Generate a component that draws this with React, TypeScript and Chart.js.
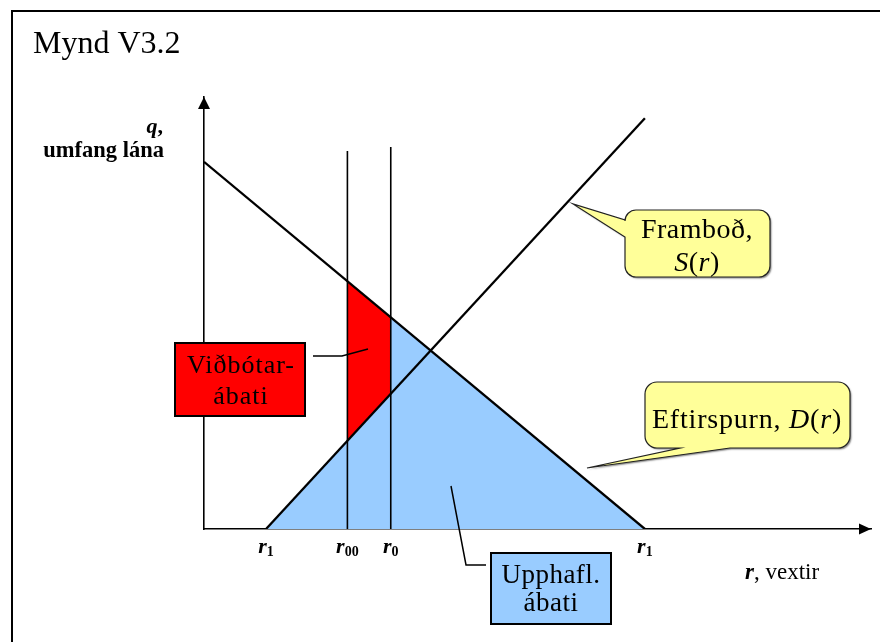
import React, { useEffect, useRef } from 'react';
import { Chart, registerables } from 'chart.js';

Chart.register(...registerables);

// r-axis tick positions and their subscript labels
const rTicks = [9.3, 21.5, 28.0, 66.1];
const rTickSubs = ['1', '00', '0', '1'];

// Demand curve D(r)
const demandR = [0, 66.1];
const demandQ = [85.0, 0];

// Supply curve S(r)
const supplyR = [9.3, 66.1];
const supplyQ = [0, 95.1];

// Vertical lines at r00 and r0
const r00R = [21.5, 21.5];
const r00Q = [0, 87.5];
const r0R = [28.0, 28.0];
const r0Q = [0, 88.4];

// Viðbótarábati (red area)
const extraR = [21.5, 28.0, 28.0, 21.5];
const extraQ = [20.4, 31.3, 49.0, 57.3];

// Upphaflegur ábati (blue area)
const initR = [9.3, 28.0, 28.0, 66.1];
const initQ = [0, 31.3, 49.0, 0];

const SERIF = '"Liberation Serif", "Times New Roman", serif';

const pts = (xs: number[], ys: number[]) => xs.map((x, i) => ({ x, y: ys[i] }));

type Run = { t: string; f: string; dy?: number };

function drawRuns(ctx: CanvasRenderingContext2D, runs: Run[], x: number, y: number, align: 'left' | 'center' | 'right') {
  let total = 0;
  const widths: number[] = [];
  for (const r of runs) {
    ctx.font = r.f;
    const w = ctx.measureText(r.t).width;
    widths.push(w);
    total += w;
  }
  let cx = align === 'center' ? x - total / 2 : align === 'right' ? x - total : x;
  ctx.textAlign = 'left';
  ctx.textBaseline = 'alphabetic';
  runs.forEach((r, i) => {
    ctx.font = r.f;
    ctx.fillText(r.t, cx, y + (r.dy || 0));
    cx += widths[i];
  });
}

type Tail = { edge: 'left' | 'bottom'; a: number; b: number; tx: number; ty: number };

function bubblePath(ctx: CanvasRenderingContext2D, x: number, y: number, w: number, h: number, r: number, tail: Tail) {
  ctx.beginPath();
  ctx.moveTo(x + r, y);
  ctx.lineTo(x + w - r, y);
  ctx.arcTo(x + w, y, x + w, y + r, r);
  ctx.lineTo(x + w, y + h - r);
  ctx.arcTo(x + w, y + h, x + w - r, y + h, r);
  if (tail.edge === 'bottom') {
    ctx.lineTo(tail.b, y + h);
    ctx.lineTo(tail.tx, tail.ty);
    ctx.lineTo(tail.a, y + h);
  }
  ctx.lineTo(x + r, y + h);
  ctx.arcTo(x, y + h, x, y + h - r, r);
  if (tail.edge === 'left') {
    ctx.lineTo(x, tail.b);
    ctx.lineTo(tail.tx, tail.ty);
    ctx.lineTo(x, tail.a);
  }
  ctx.lineTo(x, y + r);
  ctx.arcTo(x, y, x + r, y, r);
  ctx.closePath();
}

function drawBubble(ctx: CanvasRenderingContext2D, x: number, y: number, w: number, h: number, r: number, tail: Tail) {
  ctx.save();
  bubblePath(ctx, x, y, w, h, r, tail);
  ctx.shadowColor = 'rgba(0,0,0,0.45)';
  ctx.shadowOffsetX = 1.5;
  ctx.shadowOffsetY = 1.5;
  ctx.shadowBlur = 1.5;
  ctx.fillStyle = '#FFFF99';
  ctx.fill();
  ctx.shadowColor = 'transparent';
  ctx.lineWidth = 1.2;
  ctx.strokeStyle = '#222';
  ctx.stroke();
  ctx.restore();
}

const overlayPlugin = {
  id: 'overlay',
  afterDraw(chart: any) {
    const ctx: CanvasRenderingContext2D = chart.ctx;
    const xs = chart.scales.x;
    const ys = chart.scales.y;
    const x0 = xs.getPixelForValue(0);
    const xEnd = xs.getPixelForValue(100);
    const y0 = ys.getPixelForValue(0);
    const yEnd = ys.getPixelForValue(100);
    ctx.save();

    // frame
    ctx.strokeStyle = '#000';
    ctx.lineWidth = 2;
    ctx.beginPath();
    ctx.moveTo(12, 700);
    ctx.lineTo(12, 11);
    ctx.lineTo(900, 11);
    ctx.stroke();

    // arrow heads
    ctx.fillStyle = '#000';
    ctx.beginPath();
    ctx.moveTo(xEnd, y0);
    ctx.lineTo(xEnd - 12, y0 - 5.5);
    ctx.lineTo(xEnd - 12, y0 + 5.5);
    ctx.closePath();
    ctx.fill();
    ctx.beginPath();
    ctx.moveTo(x0, yEnd);
    ctx.lineTo(x0 - 6, yEnd + 12);
    ctx.lineTo(x0 + 6, yEnd + 12);
    ctx.closePath();
    ctx.fill();

    // title
    ctx.fillStyle = '#000';
    drawRuns(ctx, [{ t: 'Mynd V3.2', f: `32px ${SERIF}` }], 33, 53, 'left');

    // axis titles
    drawRuns(ctx, [{ t: 'q', f: `italic bold 22px ${SERIF}` }, { t: ',', f: `bold 22px ${SERIF}` }], 163, 133, 'right');
    drawRuns(ctx, [{ t: 'umfang lána', f: `bold 22.5px ${SERIF}` }], 164, 157, 'right');
    drawRuns(ctx, [{ t: 'r', f: `italic bold 23px ${SERIF}` }, { t: ', vextir', f: `23px ${SERIF}` }], 745, 579, 'left');

    // r tick labels
    rTicks.forEach((v, i) => {
      drawRuns(
        ctx,
        [
          { t: 'r', f: `italic bold 22px ${SERIF}` },
          { t: rTickSubs[i], f: `bold 14px ${SERIF}`, dy: 3 },
        ],
        xs.getPixelForValue(v),
        y0 + 24,
        'center'
      );
    });

    // callout: Framboð, S(r)
    drawBubble(ctx, 625, 210, 145, 67, 11, { edge: 'left', a: 220, b: 237, tx: 573, ty: 204 });
    ctx.fillStyle = '#000';
    (ctx as any).letterSpacing = '0.5px';
    drawRuns(ctx, [{ t: 'Framboð,', f: `28px ${SERIF}` }], 697, 238, 'center');
    drawRuns(
      ctx,
      [
        { t: 'S', f: `italic 28px ${SERIF}` },
        { t: '(', f: `28px ${SERIF}` },
        { t: 'r', f: `italic 28px ${SERIF}` },
        { t: ')', f: `28px ${SERIF}` },
      ],
      697,
      271,
      'center'
    );

    // callout: Eftirspurn, D(r)
    drawBubble(ctx, 645, 382, 205, 66, 12, { edge: 'bottom', a: 680, b: 730, tx: 587, ty: 468 });
    ctx.fillStyle = '#000';
    (ctx as any).letterSpacing = '0.8px';
    drawRuns(
      ctx,
      [
        { t: 'Eftirspurn, ', f: `28px ${SERIF}` },
        { t: 'D', f: `italic 28px ${SERIF}` },
        { t: '(', f: `28px ${SERIF}` },
        { t: 'r', f: `italic 28px ${SERIF}` },
        { t: ')', f: `28px ${SERIF}` },
      ],
      747,
      428,
      'center'
    );
    (ctx as any).letterSpacing = '0px';

    // Viðbótarábati label
    ctx.strokeStyle = '#000';
    ctx.lineWidth = 1.5;
    ctx.beginPath();
    ctx.moveTo(313, 356);
    ctx.lineTo(342, 356);
    ctx.lineTo(368, 349);
    ctx.stroke();
    ctx.fillStyle = '#FF0000';
    ctx.fillRect(175, 343, 130, 73);
    ctx.lineWidth = 2;
    ctx.strokeRect(175, 343, 130, 73);
    ctx.fillStyle = '#000';
    (ctx as any).letterSpacing = '1px';
    drawRuns(ctx, [{ t: 'Viðbótar-', f: `26px ${SERIF}` }], 241, 373, 'center');
    drawRuns(ctx, [{ t: 'ábati', f: `26px ${SERIF}` }], 241, 404, 'center');
    (ctx as any).letterSpacing = '0px';

    // Upphafl. ábati label
    ctx.strokeStyle = '#000';
    ctx.lineWidth = 1.5;
    ctx.beginPath();
    ctx.moveTo(451, 486);
    ctx.lineTo(466, 565);
    ctx.lineTo(486, 565);
    ctx.stroke();
    ctx.fillStyle = '#99CCFF';
    ctx.fillRect(491, 553, 120, 71);
    ctx.lineWidth = 2;
    ctx.strokeRect(491, 553, 120, 71);
    ctx.fillStyle = '#000';
    (ctx as any).letterSpacing = '0.5px';
    drawRuns(ctx, [{ t: 'Upphafl.', f: `27px ${SERIF}` }], 551, 583, 'center');
    drawRuns(ctx, [{ t: 'ábati', f: `27px ${SERIF}` }], 551, 611, 'center');
    (ctx as any).letterSpacing = '0px';

    ctx.restore();
  },
};

export default function App() {
  const ref = useRef<HTMLCanvasElement | null>(null);

  useEffect(() => {
    if (!ref.current) return;
    const axisOpts = {
      type: 'linear' as const,
      min: 0,
      max: 100,
      ticks: { display: false },
      grid: { display: false, drawTicks: false },
      border: { display: true, color: '#000', width: 1.6 },
    };
    const chart = new Chart(ref.current, {
      type: 'line',
      data: {
        datasets: [
          { label: 'Eftirspurn, D(r)', data: pts(demandR, demandQ), borderColor: '#000', borderWidth: 2.3, fill: false },
          { label: 'Framboð, S(r)', data: pts(supplyR, supplyQ), borderColor: '#000', borderWidth: 2.3, fill: false },
          { label: 'r00', data: pts(r00R, r00Q), borderColor: '#000', borderWidth: 1.6, fill: false },
          { label: 'r0', data: pts(r0R, r0Q), borderColor: '#000', borderWidth: 1.6, fill: false },
          {
            label: 'Viðbótarábati',
            data: pts(extraR, extraQ),
            borderColor: 'rgba(0,0,0,0)',
            borderWidth: 0,
            backgroundColor: '#FF0000',
            fill: 'shape',
          },
          {
            label: 'Upphafl. ábati',
            data: pts(initR, initQ),
            borderColor: 'rgba(0,0,0,0)',
            borderWidth: 0,
            backgroundColor: '#99CCFF',
            fill: 'shape',
          },
        ],
      },
      options: {
        responsive: false,
        animation: false,
        layout: { padding: { left: 204, top: 97, right: 9, bottom: 113 } },
        plugins: { legend: { display: false }, tooltip: { enabled: false } },
        elements: { point: { radius: 0, hoverRadius: 0 }, line: { tension: 0 } },
        scales: { x: axisOpts, y: axisOpts },
      },
      plugins: [overlayPlugin],
    } as any);
    return () => chart.destroy();
  }, []);

  return (
    <div style={{ position: 'absolute', left: 0, top: 0, width: 880, height: 642, background: '#fff' }}>
      <canvas ref={ref} width={880} height={642} style={{ display: 'block' }} />
    </div>
  );
}
